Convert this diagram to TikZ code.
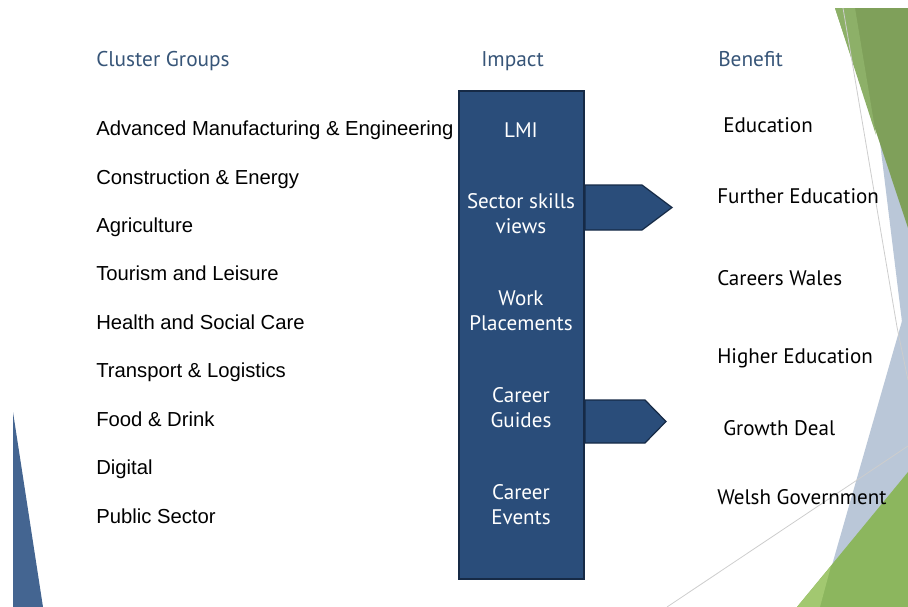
\documentclass[tikz,border=0pt]{standalone}
\usepackage{fontspec}
\setmainfont{Liberation Sans}
\newfontfamily\facetfont{PT Sans}
\definecolor{headblue}{RGB}{55,85,120}
\definecolor{boxblue}{RGB}{42,77,122}
\definecolor{boxedge}{RGB}{22,42,70}
\definecolor{leftblue}{RGB}{68,101,145}
\definecolor{greydeco}{RGB}{186,199,216}
\definecolor{greenA}{RGB}{127,160,90}
\definecolor{greenB}{RGB}{141,176,104}
\definecolor{greenC}{RGB}{140,182,94}
\definecolor{greenD}{RGB}{162,200,112}
\definecolor{thinline}{RGB}{205,205,205}
\begin{document}
\begin{tikzpicture}[x=0.75pt,y=-0.75pt,
  head/.style={anchor=base west,inner sep=0pt,font=\facetfont\fontsize{16}{18}\selectfont,text=headblue},
  cluster/.style={anchor=base west,inner sep=0pt,font=\fontsize{15.2}{18}\selectfont,text=black},
  benefit/.style={anchor=base west,inner sep=0pt,font=\facetfont\fontsize{15.8}{18}\selectfont,text=black},
  impacttext/.style={inner sep=0pt,align=center,text=white,font=\facetfont\fontsize{15.8}{18.75}\selectfont},
  impactbox/.style={draw=boxedge,line width=0.9pt,fill=boxblue,minimum width=93.75pt,minimum height=366pt,inner sep=0pt},
  pointer/.style={draw=boxedge,line width=0.9pt,fill=boxblue,line join=miter},
  deco/.style={draw=thinline,line width=0.6pt}]
\useasboundingbox (0,0) rectangle (908,607);
% decorations
\fill[leftblue] (13,412) -- (43,607) -- (13,607) -- cycle;
\fill[greydeco] (876,110) -- (903,330) -- (908,360) -- (908,110) -- cycle;
\fill[greydeco] (908,300) -- (820,607) -- (908,607) -- cycle;
\fill[greenA] (835,8) -- (908,8) -- (908,228) -- cycle;
\fill[greenB] (835,8) -- (855,8) -- (876,135) -- cycle;
\fill[greenC] (908,472) -- (797,607) -- (908,607) -- cycle;
\fill[greenD] (831,566) -- (797,607) -- (820,607) -- cycle;
\coordinate (la) at (843,8);
\coordinate (lb) at (908,380);
\coordinate (lc) at (908,446);
\coordinate (ld) at (667,607);
\draw[deco] (la) -- (897,327) -- (lb);
\draw[deco] (lc) -- (ld);
% headings
\node[head] (hcg) at (96,66) {Cluster Groups};
\node[head] (him) at (481,66) {Impact};
\node[head] (hbe) at (718,66) {Benefit};
% cluster groups
\node[cluster] (c1) at (96,135) {Advanced Manufacturing \& Engineering};
\node[cluster] (c2) at (96,184) {Construction \& Energy};
\node[cluster] (c3) at (96,232) {Agriculture};
\node[cluster] (c4) at (96,280) {Tourism and Leisure};
\node[cluster] (c5) at (96,329) {Health and Social Care};
\node[cluster] (c6) at (96,377) {Transport \& Logistics};
\node[cluster] (c7) at (96,426) {Food \& Drink};
\node[cluster] (c8) at (96,474) {Digital};
\node[cluster] (c9) at (96,523) {Public Sector};
% impact box
\node[impactbox] (box) at (521.5,335) {};
\node[impacttext] (i1) at (521,130) {LMI};
\node[impacttext] (i2) at (521,213.5) {Sector skills\\views};
\node[impacttext] (i3) at (521,311) {Work\\Placements};
\node[impacttext] (i4) at (521,408) {Career\\Guides};
\node[impacttext] (i5) at (521,505) {Career\\Events};
% pointers
\coordinate (p1) at (672,207.5);
\coordinate (p2) at (666,421.5);
\draw[pointer] (585,185) -- (642,185) -- (p1) -- (642,230) -- (585,230) -- cycle;
\draw[pointer] (585,400) -- (645,400) -- (p2) -- (645,443) -- (585,443) -- cycle;
% benefits
\node[benefit] (b1) at (723,132) {Education};
\node[benefit] (b2) at (717,203) {Further Education};
\node[benefit] (b3) at (717,285) {Careers Wales};
\node[benefit] (b4) at (717,363) {Higher Education};
\node[benefit] (b5) at (723,435) {Growth Deal};
\node[benefit] (b6) at (717,504) {Welsh Government};
\end{tikzpicture}
\end{document}
